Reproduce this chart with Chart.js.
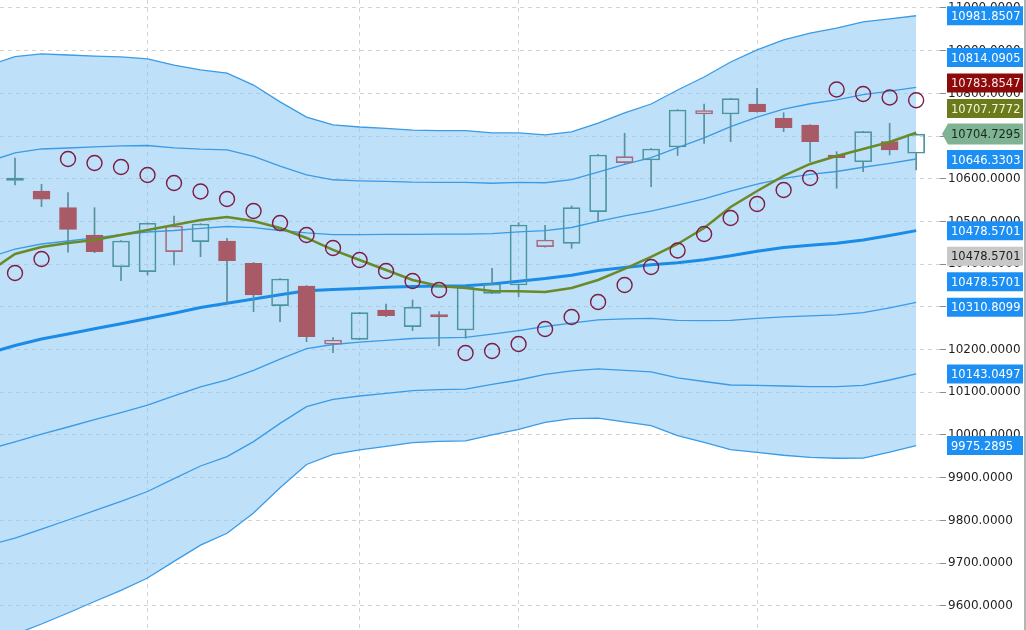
<!DOCTYPE html>
<html>
<head>
<meta charset="utf-8">
<script src="https://cdn.jsdelivr.net/npm/chart.js@4.4.1/dist/chart.umd.min.js"></script>
<style>
html, body { margin: 0; padding: 0; background: #fff; }
#wrap { width: 1026px; height: 630px; position: relative; }
</style>
</head>
<body>
<div id="wrap"><canvas id="chart" width="1026" height="630"></canvas></div>
<script>
// bar -1 is the one scrolled off the left edge, only the indicator lines use it
const lineIdx = [-1, 0, 1, 2, 3, 4, 5, 6, 7, 8, 9, 10, 11, 12, 13, 14, 15, 16, 17,
    18, 19, 20, 21, 22, 23, 24, 25, 26, 27, 28, 29, 30, 31, 32, 33, 34];

// bollinger middle and deviation (bands are mid +/- 1,2,3 dev)
const bandMid = [10191.3, 10209.6, 10224.8, 10236.5, 10248.7, 10260.7, 10272.8, 10285.2,
    10298.4, 10308.7, 10318.5, 10328.3, 10337.7, 10340.5, 10343.3, 10345.7, 10348.0, 10348.9,
    10349.5, 10353.9, 10360.2, 10366.3, 10374.0, 10385.0, 10392.3, 10398.6, 10403.3, 10410.5,
    10419.7, 10430.4, 10438.9, 10444.5, 10449.2, 10456.7, 10467.0, 10478.5701];
const bandDev = [224.7, 225.5, 222.5, 217.8, 212.9, 208.2, 202.6, 193.7, 185.5, 179.6,
    167.0, 150.6, 135.6, 128.6, 126.0, 124.1, 122.0, 121.3, 121.1, 117.8, 115.7, 112.2,
    111.9, 115.2, 120.6, 125.5, 134.9, 142.6, 151.3, 157.1, 162.1, 165.6, 167.9, 170.3,
    169.1, 167.7602];

// olive moving average
const maLine = [10381.7, 10423.9, 10440.3, 10449.6, 10456.7, 10468.4, 10480.1, 10491.8,
    10503.5, 10510.5, 10501.2, 10484.8, 10461.4, 10433.3, 10409.8, 10386.4, 10363.0, 10348.9,
    10344.3, 10337.2, 10336.5, 10334.9, 10344.3, 10363.0, 10388.8, 10416.9, 10447.3, 10484.8,
    10534.0, 10571.4, 10606.6, 10634.7, 10653.4, 10669.8, 10686.2, 10707.7772];

const opens = [10596.0, 10571.4, 10532.3, 10468.4, 10394.1, 10382.4, 10429.3, 10452.7, 10454.3,
    10402.1, 10302.8, 10348.9, 10212.4, 10224.1, 10292.7, 10253.6, 10281.7, 10245.9, 10331.8,
    10351.3, 10441.0, 10448.9, 10523.0, 10637.7, 10644.0, 10674.5, 10751.7, 10751.7, 10775.2,
    10741.7, 10726.0, 10655.7, 10640.0, 10686.9, 10659.7];
const highs = [10648.7, 10587.1, 10567.5, 10532.3, 10455.0, 10497.0, 10512.9, 10495.0, 10460.7,
    10404.0, 10366.0, 10350.0, 10227.9, 10287.0, 10306.8, 10316.2, 10288.8, 10347.0, 10390.4,
    10497.2, 10491.0, 10536.3, 10657.0, 10706.6, 10671.0, 10762.0, 10775.2, 10788.0, 10811.9,
    10754.8, 10727.0, 10663.5, 10711.0, 10730.0, 10705.0];
const lows = [10585.5, 10534.7, 10427.9, 10427.0, 10361.4, 10374.7, 10398.1, 10417.6, 10308.4,
    10288.8, 10265.3, 10218.5, 10192.7, 10223.0, 10277.0, 10244.3, 10208.4, 10226.5, 10331.0,
    10323.9, 10440.0, 10437.2, 10499.5, 10636.0, 10581.5, 10654.6, 10683.1, 10686.9, 10756.0,
    10710.3, 10640.0, 10577.7, 10616.6, 10655.7, 10620.6];
const closes = [10601.9, 10552.0, 10481.7, 10429.3, 10454.3, 10495.8, 10489.5, 10494.1, 10408.2,
    10327.9, 10365.3, 10230.2, 10222.5, 10286.4, 10279.4, 10299.1, 10276.3, 10345.9, 10353.6,
    10491.8, 10456.7, 10532.3, 10655.7, 10651.8, 10669.8, 10761.1, 10760.0, 10787.6, 10757.1,
    10719.7, 10686.9, 10649.4, 10710.3, 10667.4, 10704.7295];

// parabolic SAR dots
const sarValues = [10379.4, 10412.2, 10646.4, 10637.0, 10627.6, 10608.9, 10590.2, 10570.3,
    10552.7, 10524.6, 10496.5, 10468.4, 10437.9, 10409.8, 10384.1, 10360.7, 10339.6, 10192.0,
    10196.7, 10213.1, 10248.2, 10276.3, 10311.5, 10351.3, 10393.4, 10432.1, 10470.7, 10508.2,
    10541.0, 10573.8, 10601.9, 10809.1, 10798.6, 10790.4, 10783.8547];

// bars where the vertical (session) grid lines sit
const sessionBreaks = [5, 13, 19, 28];

const TEAL = '#4a96a0';
const MAUVE = '#a85a66';
const WICK = '#58909c';
const BAND = '#3a9be6';
const BLUE_TAG = '#1c8ff5';

const band = k => lineIdx.map((x, i) => ({ x, y: bandMid[i] + k * bandDev[i] }));

const candles = closes.map((c, i) => {
    const down = i > 0 && c < closes[i - 1];
    const col = down ? MAUVE : TEAL;
    const filled = c < opens[i];
    return {
        body: { x: i, y: [opens[i], c] },
        top: { x: i, y: [Math.max(opens[i], c), highs[i]] },
        bot: { x: i, y: [lows[i], Math.min(opens[i], c)] },
        fill: filled ? col : 'rgba(0,0,0,0)',
        edge: down && !filled ? '#a96a7e' : col
    };
});

const bandLine = (k, extra) => Object.assign({
    type: 'line', data: band(k), borderColor: BAND, borderWidth: 1.3,
    pointRadius: 0, tension: 0, fill: false, order: 10
}, extra);

const datasets = [
    bandLine(-3),
    bandLine(3, { fill: '-1', backgroundColor: 'rgba(140,200,245,0.56)' }),
    bandLine(2), bandLine(1), bandLine(-1), bandLine(-2),
    { type: 'line', data: band(0), borderColor: '#1a8ce8', borderWidth: 3,
      pointRadius: 0, tension: 0, fill: false, order: 9 },
    { type: 'bar', data: candles.map(c => c.top), backgroundColor: WICK,
      barThickness: 1, grouped: false, order: 6 },
    { type: 'bar', data: candles.map(c => c.bot), backgroundColor: WICK,
      barThickness: 1, grouped: false, order: 6 },
    { type: 'bar', data: candles.map(c => c.body), backgroundColor: candles.map(c => c.fill),
      borderColor: candles.map(c => c.edge), borderWidth: 1, borderSkipped: false,
      barThickness: 17, grouped: false, order: 5 },
    { type: 'line', data: lineIdx.map((x, i) => ({ x, y: maLine[i] })), borderColor: '#6a8a28',
      borderWidth: 2.5, pointRadius: 0, tension: 0, fill: false, order: 3 },
    { type: 'line', data: sarValues.map((y, x) => ({ x, y })), showLine: false,
      pointRadius: 7.5, pointBorderWidth: 1.4, pointBorderColor: '#7c1c45',
      pointBackgroundColor: 'rgba(0,0,0,0)', order: 2 }
];

// value tags on the price axis, pushed apart from the last-price tag
const lastMid = bandMid[bandMid.length - 1], lastDev = bandDev[bandDev.length - 1];
const priceTag = { v: closes[closes.length - 1], bg: '#80b393', fg: '#142a1c', arrow: true };
const tagsAbove = [
    { v: maLine[maLine.length - 1], bg: '#6b7b1c', fg: '#f4f4dc' },
    { v: sarValues[sarValues.length - 1], bg: '#8c0a0a', fg: '#ffe8e8' },
    { v: lastMid + 2 * lastDev, bg: BLUE_TAG, fg: '#fff' },
    { v: lastMid + 3 * lastDev, bg: BLUE_TAG, fg: '#fff' }
];
const tagsBelow = [
    { v: lastMid + lastDev, bg: BLUE_TAG, fg: '#fff' },
    { v: lastMid, bg: BLUE_TAG, fg: '#fff' },
    { v: lastMid, bg: '#c8c8c8', fg: '#222' },
    { v: lastMid, bg: BLUE_TAG, fg: '#fff' },
    { v: lastMid - lastDev, bg: BLUE_TAG, fg: '#fff' },
    { v: lastMid - 2 * lastDev, bg: BLUE_TAG, fg: '#fff' },
    { v: lastMid - 3 * lastDev, bg: BLUE_TAG, fg: '#fff' }
];

const tagPlugin = {
    id: 'priceTags',
    afterDraw(chart) {
        const ctx = chart.ctx, ys = chart.scales.y;
        const x0 = chart.chartArea.right + 7, x1 = 1023, h = 19, gap = 25.5;
        const drawTag = (t, y) => {
            ctx.fillStyle = t.bg;
            ctx.beginPath();
            if (t.arrow) {
                ctx.moveTo(x0 - 5, y);
                ctx.lineTo(x0 + 1, y - h / 2 - 1);
                ctx.lineTo(x1, y - h / 2 - 1);
                ctx.lineTo(x1, y + h / 2 + 1);
                ctx.lineTo(x0 + 1, y + h / 2 + 1);
            } else {
                ctx.rect(x0, y - h / 2, x1 - x0, h);
            }
            ctx.closePath();
            ctx.fill();
            ctx.fillStyle = t.fg;
            ctx.font = '11.5px "DejaVu Sans"';
            ctx.textBaseline = 'middle';
            ctx.textAlign = 'left';
            ctx.fillText(t.v.toFixed(4), x0 + 4, y + 1);
        };
        ctx.save();
        const py = ys.getPixelForValue(priceTag.v);
        let prev = py;
        tagsAbove.forEach(t => { prev = Math.min(ys.getPixelForValue(t.v), prev - gap); drawTag(t, prev); });
        prev = py;
        tagsBelow.forEach(t => { prev = Math.max(ys.getPixelForValue(t.v), prev + gap); drawTag(t, prev); });
        drawTag(priceTag, py);
        // right edge frame
        ctx.fillStyle = '#b5b5b5';
        ctx.fillRect(1024, 0, 2, 630);
        ctx.restore();
    }
};

new Chart(document.getElementById('chart'), {
    type: 'line',
    data: { datasets },
    options: {
        responsive: false, animation: false, events: [], devicePixelRatio: 1,
        layout: { padding: 0, autoPadding: false },
        plugins: {
            legend: { display: false }, tooltip: { enabled: false },
            filler: { drawTime: 'beforeDatasetsDraw' }
        },
        scales: {
            x: {
                type: 'linear', min: -0.566, max: 34.9, offset: false,
                afterBuildTicks: s => { s.ticks = sessionBreaks.map(v => ({ value: v })); },
                afterFit: s => { s.height = 0; s.paddingLeft = 0; s.paddingRight = 0; },
                ticks: { display: false },
                grid: { color: '#d2d2d2', drawTicks: false, offset: false },
                border: { display: false, dash: [4, 4] }
            },
            y: {
                position: 'right', min: 9543.3, max: 11018.7, beginAtZero: false,
                afterFit: s => { s.width = 86; s.paddingTop = 0; s.paddingBottom = 0; },
                ticks: {
                    stepSize: 100, includeBounds: false, autoSkip: false, padding: 2,
                    color: '#1f1f1f', font: { family: 'DejaVu Sans', size: 12 },
                    callback: v => v.toFixed(4)
                },
                grid: { color: '#d2d2d2', tickLength: 6, tickColor: '#8c8c8c', tickBorderDash: [] },
                border: { display: false, dash: [4, 4] }
            }
        }
    },
    plugins: [tagPlugin]
});
</script>
</body>
</html>
